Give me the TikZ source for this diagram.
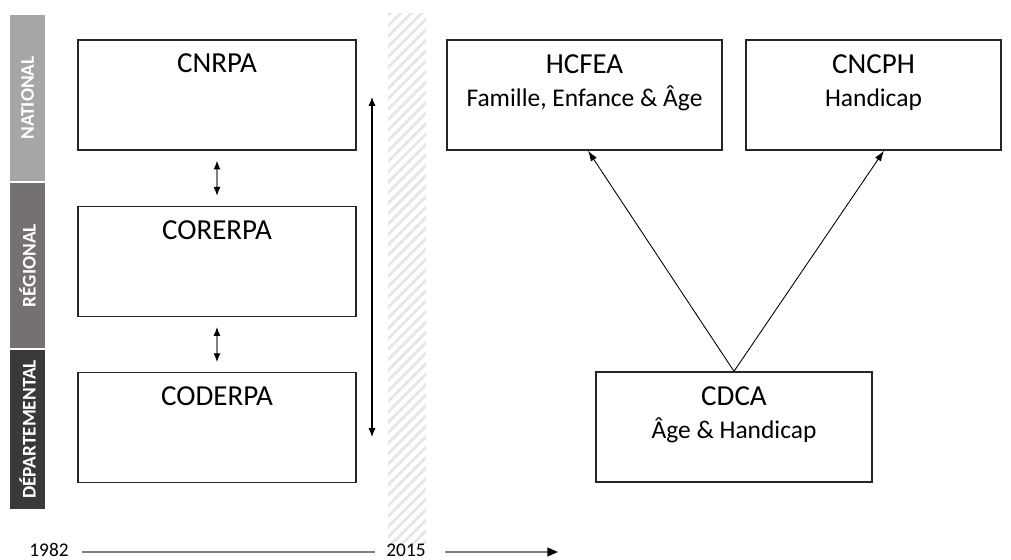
\documentclass[tikz,border=0pt]{standalone}
\usepackage{fontspec}
\setmainfont{Carlito}
\usetikzlibrary{arrows.meta,patterns.meta,positioning}
\definecolor{natgray}{RGB}{166,166,166}
\definecolor{reggray}{RGB}{118,113,113}
\definecolor{depgray}{RGB}{59,56,56}
\definecolor{hatchgray}{RGB}{230,230,230}
\newcommand{\subline}[1]{{\fontsize{14.5}{19}\selectfont #1}}

\begin{document}
\begin{tikzpicture}[x=0.02cm, y=-0.02cm,
    node distance=1.1cm,
    box/.style={draw=black!85, line width=0.8pt, minimum width=5.56cm, minimum height=2.2cm, inner sep=0pt, align=center, text height=0.66cm, text depth=1.54cm, font=\fontsize{16.5}{19}\selectfont},
    twoline/.style={text height=1.34cm, text depth=0.86cm},
    tier/.style={rotate=90, minimum width=#1, minimum height=0.7cm, inner sep=0pt, text=white, font=\bfseries\fontsize{11}{13}\selectfont},
    year/.style={inner sep=2pt, font=\fontsize{11}{13}\selectfont},
    dbl/.style={{Latex[length=5pt, width=4pt, color=black]}-{Latex[length=5pt, width=4pt, color=black]}, line width=0.6pt},
    arrow/.style={-{Latex[length=6pt, width=4pt]}, line width=0.5pt}
]
\useasboundingbox (0,0) rectangle (1011,560);

% Levels
\node[tier=3.32cm, fill=natgray] (national) at (27.5,98) {NATIONAL};
\node[tier=3.30cm, fill=reggray] (regional) at (27.5,265.5) {RÉGIONAL};
\node[tier=3.18cm, fill=depgray] (departemental) at (27.5,429.5) {DÉPARTEMENTAL};

% 2015 stripe
\fill[pattern={Lines[angle=45, distance=4.2pt, line width=1.6pt]}, pattern color=hatchgray] (388,14) rectangle (426,548);

% Before 2015
\node[box] (cnrpa) at (217,95) {CNRPA};
\node[box, below=of cnrpa] (corerpa) {CORERPA};
\node[box, below=of corerpa] (coderpa) {CODERPA};

\draw[dbl, draw=gray] ([yshift=-0.2cm]cnrpa.south) -- ([yshift=0.2cm]corerpa.north);
\draw[dbl, draw=gray] ([yshift=-0.2cm]corerpa.south) -- ([yshift=0.2cm]coderpa.north);

\coordinate (spantop) at (372,97);
\coordinate (spanbot) at (372,437);
\draw[dbl] (spantop) -- (spanbot);

% After 2015
\node[box, twoline, minimum width=5.5cm] (hcfea) at (584.5,95) {HCFEA\\\subline{Famille, Enfance \& Âge}};
\node[box, twoline, minimum width=5.1cm] (cncph) at (873.5,95) {CNCPH\\\subline{Handicap}};
\node[box, twoline, minimum width=5.52cm] (cdca) at (734,427) {CDCA\\\subline{Âge \& Handicap}};

\draw[arrow] (cdca.north) -- ([xshift=0.07cm]hcfea.south);
\draw[arrow] (cdca.north) -- ([xshift=0.21cm]cncph.south);

% Timeline
\node[year] (y1982) at (49,550) {1982};
\node[year] (y2015) at (406,550) {2015};
\coordinate (tend) at (558,552);
\draw[gray, line width=0.8pt, shorten <=0.66cm, shorten >=0.62cm] (y1982.center |- tend) -- (y2015.center |- tend);
\draw[gray, line width=0.8pt, -{Triangle[length=6pt, width=5pt, color=black]}, shorten <=0.78cm] (y2015.center |- tend) -- (tend);

\end{tikzpicture}
\end{document}
